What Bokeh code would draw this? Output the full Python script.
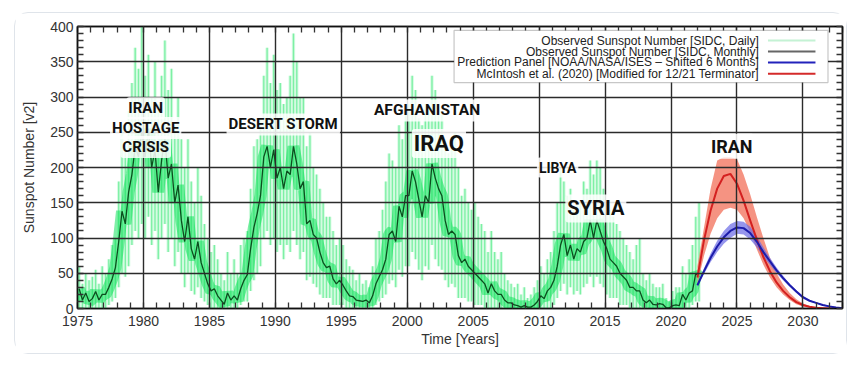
import numpy as np
from bokeh.plotting import figure
from bokeh.models import (Label, BoxAnnotation, LinearAxis, SingleIntervalTicker,
                          Range1d, ColumnDataSource, CustomJSTickFormatter)
from bokeh.embed import file_html
from bokeh.resources import INLINE

# ---------------- data (quarterly, starting 1975 Q1) ----------------
monthly = [
    28, 12, 22, 10,   14, 24, 12, 20,   20, 30, 42, 58,   95, 138, 120, 165,
    190, 230, 215, 250,   215, 255, 200, 225,   165, 210, 240, 185,   205, 150, 175, 125,
    95, 130, 85, 70,   95, 65, 50, 35,   25, 28, 18, 12,   6, 22, 12, 18,
    12, 28, 40, 48,   85, 115, 135, 160,   215, 230, 200, 225,   185, 200, 170, 195,
    190, 230, 205, 170,   180, 120, 125, 105,   100, 80, 65, 58,   60, 42, 35, 40,
    33, 25, 18, 17,   12, 11, 10, 12,   8, 18, 35, 45,   55, 70, 105, 110,
    95, 145, 130, 160,   160, 195, 180, 155,   130, 160, 150, 205,   185, 170, 160, 125,
    105, 110, 105, 75,   65, 70, 60, 55,   50, 45, 40, 35,   22, 35, 25, 20,
    20, 12, 8, 8,   5, 4, 2, 4,   2, 2, 5, 10,   18, 14, 25, 30,
    40, 60, 90, 105,   75, 90, 70, 85,   80, 95, 100, 125,   100, 125, 110, 95,
    85, 70, 65, 60,   50, 45, 40, 30,   30, 25, 25, 12,   8, 12, 6, 5,
    7, 6, 1, 1,   4, 5, 4, 20,   12, 22, 25, 50,   45,
]
daily_hi = [
    60, 35, 50, 40,   45, 55, 35, 60,   50, 70, 90, 100,   180, 260, 230, 280,
    320, 370, 340, 400,   330, 360, 300, 350,   290, 330, 380, 310,   340, 260, 300, 240,
    200, 240, 180, 150,   200, 160, 120, 100,   80, 90, 70, 50,   40, 80, 50, 70,
    50, 90, 100, 110,   170, 230, 240, 270,   330, 370, 320, 360,   310, 320, 290, 300,
    330, 390, 350, 300,   300, 230, 250, 200,   190, 170, 150, 130,   130, 110, 90, 100,
    90, 70, 60, 55,   40, 50, 35, 40,   30, 60, 100, 110,   140, 180, 220, 210,
    200, 260, 240, 280,   290, 330, 310, 270,   260, 290, 280, 330,   310, 290, 280, 240,
    220, 230, 250, 200,   160, 170, 150, 140,   150, 130, 120, 110,   80, 110, 80, 70,
    80, 50, 40, 35,   30, 35, 20, 30,   15, 20, 30, 40,   60, 50, 70, 80,
    110, 150, 200, 180,   160, 170, 140, 150,   150, 180, 170, 210,   190, 210, 200, 170,
    150, 140, 130, 120,   110, 100, 90, 80,   70, 90, 100, 50,   40, 50, 35, 30,
    30, 35, 15, 10,   25, 30, 30, 60,   50, 70, 90, 130,   150,
]
daily_lo = [
    0, 0, 0, 0,   0, 0, 0, 0,   0, 5, 10, 15,   30, 50, 45, 60,
    90, 110, 100, 120,   100, 130, 90, 110,   70, 100, 120, 80,   100, 60, 80, 50,
    30, 50, 25, 20,   30, 15, 10, 5,   0, 0, 0, 0,   0, 0, 0, 0,
    0, 5, 10, 10,   25, 40, 50, 60,   100, 110, 90, 100,   80, 90, 70, 90,
    80, 110, 90, 70,   80, 40, 45, 35,   30, 20, 15, 15,   15, 5, 5, 5,
    5, 0, 0, 0,   0, 0, 0, 0,   0, 0, 5, 10,   15, 20, 35, 40,
    30, 55, 45, 60,   60, 80, 70, 55,   40, 60, 55, 90,   70, 60, 55, 40,
    30, 35, 30, 15,   15, 15, 10, 10,   5, 5, 5, 0,   0, 0, 0, 0,
    0, 0, 0, 0,   0, 0, 0, 0,   0, 0, 0, 0,   0, 0, 0, 0,
    5, 15, 25, 35,   20, 30, 20, 25,   20, 30, 35, 45,   30, 45, 35, 30,
    20, 15, 15, 15,   5, 5, 5, 0,   0, 0, 0, 0,   0, 0, 0, 0,
    0, 0, 0, 0,   0, 0, 0, 0,   0, 0, 5, 10,   10,
]

# predictions, every half year from 2022.0 to 2033.0
pred_years = [2022.0, 2022.5, 2023.0, 2023.5, 2024.0, 2024.5, 2025.0, 2025.5,
              2026.0, 2026.5, 2027.0, 2027.5, 2028.0, 2028.5, 2029.0, 2029.5,
              2030.0, 2030.5, 2031.0, 2031.5, 2032.0, 2032.5, 2033.0]
noaa_mid = [33, 53, 72, 88, 101, 110, 115, 114, 107, 95, 80, 67, 54, 43, 33, 24, 16, 11, 8, 5, 3, 1.5, 0.5]
noaa_hi = [35, 57, 78, 96, 110, 120, 124, 123, 116, 103, 87, 72, 58, 46, 35, 26, 18, 12, 9, 6, 4, 2, 1]
noaa_lo = [31, 49, 66, 80, 92, 100, 106, 105, 98, 87, 73, 62, 50, 40, 31, 22, 14, 10, 7, 4, 2, 1, 0]
mcin_mid = [44, 97, 139, 170, 188, 191, 177, 153, 125, 98, 73, 53, 37, 25, 16, 9, 5, 2.5, 1, 0.5, 0, 0, 0]
mcin_hi = [60, 115, 170, 210, 215, 215, 212, 190, 162, 130, 100, 72, 50, 34, 22, 13, 7, 3.5, 1.5, 0.5, 0, 0, 0]
mcin_lo = [35, 75, 106, 128, 140, 143, 140, 128, 108, 84, 62, 44, 30, 20, 12, 6, 3, 1.5, 0.5, 0, 0, 0, 0]

legend_labels = ["Observed Sunspot Number [SIDC, Daily]",
                 "Observed Sunspot Number [SIDC, Monthly]",
                 "Prediction Panel [NOAA/NASA/ISES \u2013 Shifted 6 Months]",
                 "McIntosh et al. (2020) [Modified for 12/21 Terminator]"]
legend_colors = ["#c4f2d4", "#666666", "#2222bb", "#d42a2a"]

events = [  # text, year, value, font size
    ("IRAN", 1980.17, 284, "15px"),
    ("HOSTAGE", 1980.17, 256, "15px"),
    ("CRISIS", 1980.17, 229, "15px"),
    ("DESERT STORM", 1990.6, 261, "15px"),
    ("AFGHANISTAN", 2001.5, 281, "15.5px"),
    ("IRAQ", 2002.4, 234, "22px"),
    ("LIBYA", 2011.4, 200, "14px"),
    ("SYRIA", 2014.3, 142, "20px"),
    ("IRAN", 2024.6, 230, "18px"),
]

# ---------------- figure ----------------
t = 1975.125 + 0.25 * np.arange(len(monthly))
src = ColumnDataSource(dict(t=t, m=monthly, hi=daily_hi, lo=daily_lo))
psrc = ColumnDataSource(dict(x=pred_years, nm=noaa_mid, nh=noaa_hi, nl=noaa_lo,
                             mm=mcin_mid, mh=mcin_hi, ml=mcin_lo))

p = figure(width=833, height=342, output_backend="svg", toolbar_location=None,
           x_range=Range1d(1975, 2033), y_range=Range1d(0, 400),
           min_border_left=62, min_border_right=6, min_border_top=13, min_border_bottom=47,
           background_fill_color="white", border_fill_color="white")
p.styles = {"border": "1px solid #dfe4ea", "border-radius": "14px",
            "margin-left": "14px", "margin-top": "12px"}
p.outline_line_color = "#111111"
p.outline_line_width = 1.5

# daily envelope (soft full-width layer + brighter narrow strokes)
p.vbar(x="t", width=0.25, top="hi", bottom="lo", source=src,
       fill_color="#6df29a", fill_alpha=0.3, line_color=None)
p.vbar(x="t", width=0.1, top="hi", bottom="lo", source=src,
       fill_color="#14e35c", fill_alpha=0.45, line_color=None)
# monthly glow + line
p.line("t", "m", source=src, line_width=12, color="#00e050", alpha=0.5)
p.line("t", "m", source=src, line_width=1.3, color="#0b4f1e")

# predictions
p.varea(x="x", y1="ml", y2="mh", source=psrc, fill_color="#f3806c", fill_alpha=0.85)
p.varea(x="x", y1="nl", y2="nh", source=psrc, fill_color="#6a6ae6", fill_alpha=0.7)
p.line("x", "mm", source=psrc, line_width=2, color="#d42020")
p.line("x", "nm", source=psrc, line_width=2, color="#1c1caa")

# axes
xt = SingleIntervalTicker(interval=5, num_minor_ticks=5)
yt = SingleIntervalTicker(interval=50, num_minor_ticks=5)
p.xaxis.ticker = xt
p.yaxis.ticker = yt
p.xgrid.ticker = xt
p.ygrid.ticker = yt
for g in (p.xgrid, p.ygrid):
    g.grid_line_color = "#2b2b2b"
    g.grid_line_width = 1.4
    g.level = "guide"

for ax in (p.xaxis[0], p.yaxis[0]):
    ax.axis_line_color = "#111111"
    ax.axis_line_width = 1.5
    ax.major_tick_in = 8
    ax.major_tick_out = 0
    ax.minor_tick_in = 6
    ax.minor_tick_out = 0
    ax.major_tick_line_color = "#222222"
    ax.minor_tick_line_color = "#333333"
    ax.minor_tick_line_width = 1.3
    ax.major_label_text_font = "Liberation Sans"
    ax.major_label_text_font_size = "14px"
    ax.major_label_text_color = "#333333"
    ax.axis_label_text_font = "Liberation Sans"
    ax.axis_label_text_font_size = "14px"
    ax.axis_label_text_font_style = "normal"
    ax.axis_label_text_color = "#333333"

p.xaxis.axis_label = "Time [Years]"
p.yaxis.axis_label = "Sunspot Number [v2]"
p.xaxis.major_label_standoff = 7
p.xaxis.axis_label_standoff = 2
p.yaxis.major_label_standoff = 4
p.yaxis.axis_label_standoff = 10

for loc, tk in (("right", yt), ("above", xt)):
    a = LinearAxis(ticker=tk, formatter=CustomJSTickFormatter(code="return ''"),
                   major_label_standoff=0,
                   major_tick_in=8, major_tick_out=0, minor_tick_in=6, minor_tick_out=0,
                   axis_line_color="#111111", axis_line_width=1.5,
                   minor_tick_line_width=1.3, minor_tick_line_color="#333333")
    p.add_layout(a, loc)

# legend (drawn manually: labels right-aligned, line samples on the right)
p.add_layout(BoxAnnotation(left=2003.55, right=2031.9, bottom=320.5, top=394.5,
                           fill_color="white", fill_alpha=1.0,
                           line_color="#444444", line_width=1.2))
rows_y = [380, 364.5, 349, 333]
for lab, col, yy in zip(legend_labels, legend_colors, rows_y):
    p.add_layout(Label(x=2026.65, y=yy, text=lab, text_align="right", text_baseline="middle",
                       text_font="Liberation Sans", text_font_size="12px", text_color="#222222"))
    r = p.line([2027.35, 2030.95], [yy, yy], line_width=2, color=col)
    r.level = "overlay"

# event labels
for txt, xx, yy, fs in events:
    p.add_layout(Label(x=xx, y=yy, text=txt, text_align="center", text_baseline="middle",
                       text_font="Roboto", text_font_style="bold", text_font_size=fs,
                       text_color="#111111", background_fill_color="white",
                       background_fill_alpha=0.85, padding=2, border_radius=3))

open("out.html", "w").write(file_html(p, INLINE))
